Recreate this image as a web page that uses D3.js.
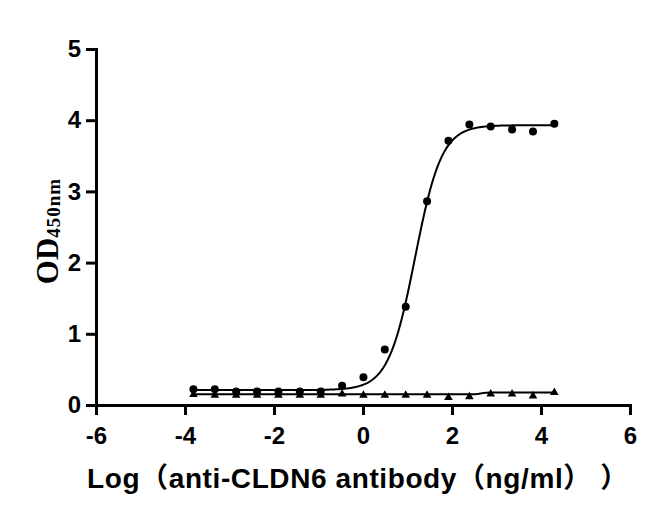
<!DOCTYPE html>
<html>
<head>
<meta charset="utf-8">
<script src="https://cdn.jsdelivr.net/npm/d3@7"></script>
<style>
  body { margin: 0; background: #fff; }
  svg { display: block; }
  .axis path, .axis line { stroke: #000; stroke-width: 3; }
</style>
</head>
<body>
<div id="chart"></div>
<script>
// log10 of antibody concentration (ng/ml), 3-fold dilutions
var logDose = [-3.81, -3.33, -2.85, -2.38, -1.90, -1.42, -0.95, -0.47, 0.01,
               0.49, 0.96, 1.44, 1.92, 2.39, 2.87, 3.35, 3.82, 4.30];
// OD450 for the CLDN6 antibody (circles)
var odCircle = [0.22, 0.22, 0.19, 0.19, 0.19, 0.19, 0.19, 0.27, 0.39,
                0.78, 1.38, 2.86, 3.71, 3.94, 3.91, 3.87, 3.84, 3.95];
// OD450 for the control (triangles)
var odTriangle = [0.16, 0.15, 0.15, 0.15, 0.15, 0.15, 0.15, 0.17, 0.15,
                  0.15, 0.15, 0.15, 0.12, 0.13, 0.17, 0.17, 0.14, 0.19];
// 4PL fit parameters: bottom, top, logEC50, hill slope
var fitCircle = [0.21, 3.93, 1.17, 1.45];
var fitTriangle = [0.15, 0.175, 2.65, 8];

var xTicks = [-6, -4, -2, 0, 2, 4, 6];
var yTicks = [0, 1, 2, 3, 4, 5];

function init() {
    var w = 650, h = 513;

    var svg = d3.select("#chart")
        .append("svg")
        .attr("width", w)
        .attr("height", h);

    var x = d3.scaleLinear().domain([-6, 6]).range([96, 630]);
    var y = d3.scaleLinear().domain([0, 5]).range([405, 49]);

    // axes (plain hyphen for negatives, like the original)
    var plain = function (d) { return String(d); };

    svg.append("g")
        .attr("class", "axis")
        .attr("transform", "translate(0," + y(0) + ")")
        .call(d3.axisBottom(x).tickValues(xTicks).tickSize(10).tickSizeOuter(0).tickPadding(12)
            .tickFormat(plain));

    svg.append("g")
        .attr("class", "axis")
        .attr("transform", "translate(" + x(-6) + ",0)")
        .call(d3.axisLeft(y).tickValues(yTicks).tickSize(10).tickSizeOuter(0).tickPadding(5)
            .tickFormat(plain));

    svg.selectAll(".axis .domain").attr("stroke-linecap", "square");
    svg.selectAll(".axis text")
        .attr("font-family", "'Liberation Sans', Arial, sans-serif")
        .attr("font-weight", "bold")
        .attr("font-size", "24px")
        .attr("fill", "#000");

    // fitted curves
    function fourPL(p) {
        return function (lx) { return p[0] + (p[1] - p[0]) / (1 + Math.pow(10, (p[2] - lx) * p[3])); };
    }
    var line = d3.line()
        .x(function (d) { return x(d[0]); })
        .y(function (d) { return y(d[1]); });

    var xs = d3.range(logDose[0], logDose[logDose.length - 1] + 0.001, 0.02);

    [fitCircle, fitTriangle].forEach(function (p) {
        var f = fourPL(p);
        svg.append("path")
            .datum(xs.map(function (lx) { return [lx, f(lx)]; }))
            .attr("d", line)
            .attr("fill", "none")
            .attr("stroke", "#000")
            .attr("stroke-width", 2);
    });

    // points
    svg.append("g").selectAll("path")
        .data(logDose)
        .enter()
        .append("path")
        .attr("d", d3.symbol().type(d3.symbolTriangle).size(32))
        .attr("transform", function (d, i) { return "translate(" + x(d) + "," + (y(odTriangle[i]) + 1) + ")"; })
        .attr("fill", "#000");

    svg.append("g").selectAll("circle")
        .data(logDose)
        .enter()
        .append("circle")
        .attr("cx", function (d) { return x(d); })
        .attr("cy", function (d, i) { return y(odCircle[i]); })
        .attr("r", 4)
        .attr("fill", "#000");

    // y axis label
    var yl = svg.append("text")
        .attr("transform", "translate(58,231) rotate(-90)")
        .attr("text-anchor", "middle")
        .attr("font-family", "'Liberation Serif', 'Times New Roman', serif")
        .attr("font-weight", "bold")
        .attr("fill", "#000");
    yl.append("tspan").attr("font-size", "31px").text("OD");
    yl.append("tspan").attr("font-size", "19px").attr("dy", 2).attr("letter-spacing", 1).text("450nm");

    // x axis label
    svg.append("text")
        .attr("x", 87)
        .attr("y", 488)
        .attr("font-family", "'Liberation Sans', Arial, 'Noto Sans CJK SC', sans-serif")
        .attr("font-weight", "bold")
        .attr("font-size", "28px")
        .attr("letter-spacing", 0.6)
        .attr("fill", "#000")
        .text("Log（anti-CLDN6 antibody（ng/ml）  ）");
}
window.onload = init;
</script>
</body>
</html>
